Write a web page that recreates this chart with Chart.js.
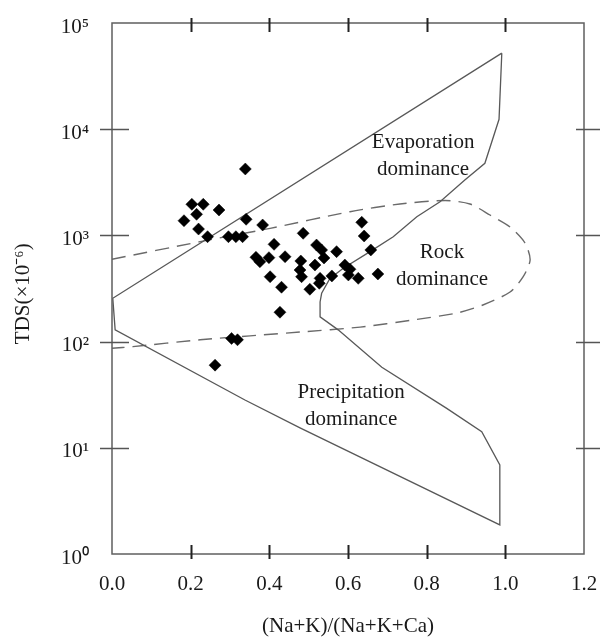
<!DOCTYPE html>
<html>
<head>
<meta charset="utf-8">
<title>Gibbs diagram</title>
<script src="https://cdn.jsdelivr.net/npm/chart.js@4/dist/chart.umd.min.js"></script>
<style>
  html, body { margin: 0; padding: 0; background: #fff; }
  canvas { display: block; }
</style>
</head>
<body>
<canvas id="gibbs" width="601" height="637"></canvas>
<script>
// ---------- data ----------
const xTickValues = [0, 0.2, 0.4, 0.6, 0.8, 1.0, 1.2];
const yTickValues = [1, 10, 100, 1000, 10000, 100000];

// samples: (Na+K)/(Na+K+Ca) vs TDS
const sampleX = [0.339, 0.203, 0.232, 0.215, 0.272, 0.183, 0.341, 0.220, 0.383, 0.243,
  0.296, 0.315, 0.332, 0.412, 0.366, 0.376, 0.399, 0.440, 0.402, 0.431,
  0.427, 0.486, 0.520, 0.533, 0.539, 0.571, 0.480, 0.478, 0.482, 0.516,
  0.529, 0.527, 0.503, 0.559, 0.592, 0.605, 0.601, 0.626, 0.676, 0.635,
  0.641, 0.658, 0.304, 0.319, 0.262];
const sampleTDS = [4220, 1963, 1963, 1580, 1734, 1375, 1418, 1148, 1253, 972,
  972, 972, 972, 824, 622, 565, 617, 630, 408, 325,
  189, 1047, 812, 729, 613, 703, 574, 472, 408, 526,
  394, 354, 311, 415, 526, 480, 424, 394, 433, 1328,
  987, 729, 107, 104, 60];

// outer Gibbs boundary (solid)
const boundaryX = [0.991, 0.002, 0.008, 0.338, 0.478, 0.986, 0.986, 0.940, 0.851, 0.686,
  0.575, 0.529, 0.529, 0.533, 0.554, 0.588, 0.656, 0.715, 0.775, 0.834,
  0.897, 0.948, 0.984, 0.991];
const boundaryTDS = [52000, 256, 129, 28.2, 15.4, 1.88, 6.89, 14.2, 23.5, 57.3,
  129, 171, 236, 285, 394, 490, 703, 972, 1500, 2076,
  3324, 4775, 12390, 52000];

// rock dominance envelope (dashed)
const rockX = [0, 0.224, 0.402, 0.605, 0.732, 0.847, 0.910, 0.961, 1.012, 1.050,
  1.063, 1.045, 1.012, 0.943, 0.877, 0.765, 0.631, 0.478, 0.224, 0.053, 0];
const rockTDS = [596, 873, 1166, 1672, 1976, 2132, 1976, 1556, 1200, 848,
  587, 406, 293, 221, 186, 160, 137, 123, 104, 89.6, 86.5];

// region names and where they sit (data units)
const regionNames = [["Evaporation", "dominance"], ["Rock", "dominance"], ["Precipitation", "dominance"]];
const regionX = [0.791, 0.839, 0.608];
const regionTDS = [5650, 510, 25];

const SUP = { "0": "\u2070", "1": "\u00B9", "2": "\u00B2", "3": "\u00B3", "4": "\u2074", "5": "\u2075", "6": "\u2076", "-": "\u207B" };
const FONT = "'Liberation Serif', 'Times New Roman', serif";

function toPoints(xs, ys) {
  return xs.map((x, i) => ({ x: x, y: ys[i] }));
}

// ---------- frame, crossing ticks, region labels ----------
const framePlugin = {
  id: "frame",
  afterDatasetsDraw(chart) {
    const { ctx, chartArea: a, scales } = chart;
    ctx.save();
    ctx.strokeStyle = "#5f5f5f";
    ctx.lineWidth = 1.5;
    ctx.strokeRect(a.left, a.top, a.right - a.left, a.bottom - a.top);

    // x ticks, top and bottom
    ctx.strokeStyle = "#222";
    ctx.lineWidth = 2;
    xTickValues.slice(1, -1).forEach((v) => {
      const px = Math.round(scales.x.getPixelForValue(v)) + 0.5;
      ctx.beginPath();
      ctx.moveTo(px, a.top - 5); ctx.lineTo(px, a.top + 9);
      ctx.moveTo(px, a.bottom - 9); ctx.lineTo(px, a.bottom + 5);
      ctx.stroke();
    });

    // y ticks, left and right
    ctx.strokeStyle = "#555";
    ctx.lineWidth = 1.4;
    yTickValues.slice(1, -1).forEach((v) => {
      const py = Math.round(scales.y.getPixelForValue(v)) + 0.5;
      ctx.beginPath();
      ctx.moveTo(a.left - 12, py); ctx.lineTo(a.left + 17, py);
      ctx.moveTo(a.right - 8, py); ctx.lineTo(a.right + 16, py);
      ctx.stroke();
    });

    // region labels
    ctx.fillStyle = "#1a1a1a";
    ctx.font = "21px " + FONT;
    ctx.textAlign = "center";
    ctx.textBaseline = "middle";
    regionNames.forEach((lines, i) => {
      const cx = scales.x.getPixelForValue(regionX[i]);
      const cy = scales.y.getPixelForValue(regionTDS[i]);
      ctx.fillText(lines[0], cx, cy - 13.5);
      ctx.fillText(lines[1], cx, cy + 13.5);
    });
    ctx.restore();
  }
};

// ---------- chart ----------
new Chart(document.getElementById("gibbs"), {
  type: "scatter",
  data: {
    datasets: [
      {
        label: "Samples",
        data: toPoints(sampleX, sampleTDS),
        pointStyle: "rectRot",
        pointRadius: 6,
        pointBackgroundColor: "#000",
        pointBorderColor: "#000",
        pointBorderWidth: 0.5,
        showLine: false
      },
      {
        label: "Boundary",
        data: toPoints(boundaryX, boundaryTDS),
        showLine: true,
        borderColor: "#585858",
        borderWidth: 1.3,
        pointRadius: 0,
        tension: 0,
        fill: false
      },
      {
        label: "Rock envelope",
        data: toPoints(rockX, rockTDS),
        showLine: true,
        borderColor: "#6a6a6a",
        borderWidth: 1.4,
        borderDash: [14, 8],
        pointRadius: 0,
        tension: 0.25,
        fill: false
      }
    ]
  },
  options: {
    responsive: false,
    animation: false,
    devicePixelRatio: 1,
    layout: { padding: { top: 23, right: 17, bottom: 0, left: 0 } },
    plugins: {
      legend: { display: false },
      tooltip: { enabled: false }
    },
    scales: {
      x: {
        type: "linear",
        min: 0,
        max: 1.2,
        afterBuildTicks: (scale) => { scale.ticks = xTickValues.map((v) => ({ value: v })); },
        afterFit: (scale) => {
          scale.height = 83;
          scale.paddingLeft = 0;
          scale.paddingRight = 0;
        },
        grid: { display: false, drawTicks: false },
        border: { display: false },
        ticks: {
          padding: 18,
          color: "#1a1a1a",
          font: { family: FONT, size: 21 },
          callback: (v) => Number(v).toFixed(1)
        },
        title: {
          display: true,
          text: "(Na+K)/(Na+K+Ca)",
          color: "#1a1a1a",
          font: { family: FONT, size: 21 },
          padding: { top: 0, bottom: -2 }
        }
      },
      y: {
        type: "logarithmic",
        min: 1,
        max: 100000,
        afterBuildTicks: (scale) => { scale.ticks = yTickValues.map((v) => ({ value: v })); },
        afterFit: (scale) => {
          scale.width = 112;
          scale.paddingTop = 0;
          scale.paddingBottom = 0;
        },
        grid: { display: false, drawTicks: false },
        border: { display: false },
        ticks: {
          padding: 23,
          labelOffset: 4,
          color: "#1a1a1a",
          font: { family: FONT, size: 21 },
          callback: (v) => "10" + String(Math.round(Math.log10(v))).split("").map((c) => SUP[c]).join("")
        },
        title: {
          display: true,
          text: "TDS(\u00D710\u207B\u2076)  ",
          color: "#1a1a1a",
          font: { family: FONT, size: 21 },
          padding: { top: 11, bottom: 0 }
        }
      }
    }
  },
  plugins: [framePlugin]
});
</script>
</body>
</html>
